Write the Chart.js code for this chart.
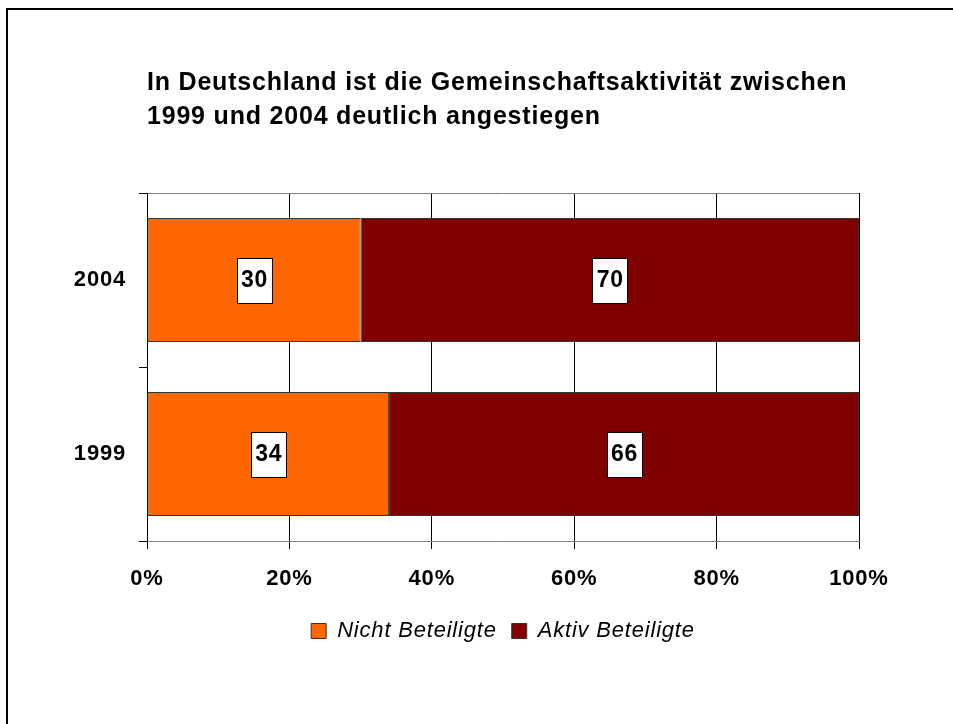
<!DOCTYPE html>
<html>
<head>
<meta charset="utf-8">
<title>Gemeinschaftsaktivität</title>
<script src="https://cdn.jsdelivr.net/npm/chart.js@4.4.1/dist/chart.umd.min.js"></script>
<style>
  body { margin: 0; background: #fff; overflow: hidden; }
  #frame { position: absolute; left: 6px; top: 8px; width: 1000px; height: 1000px; border-left: 2px solid #000; border-top: 2px solid #000; }
  #wrap { position: absolute; left: 0; top: 0; width: 953px; height: 724px; }
</style>
</head>
<body>
<div id="frame"></div>
<div id="wrap"><canvas id="chart"></canvas></div>
<script>
// Chart data
const years = ["2004", "1999"];
const nichtBeteiligte = [30, 34];
const aktivBeteiligte = [70, 66];
const percentTicks = [0, 20, 40, 60, 80, 100];
const titleLines = [
  "In Deutschland ist die Gemeinschaftsaktivität zwischen",
  "1999 und 2004 deutlich angestiegen"
];

const FONT = "'Liberation Sans', Arial, sans-serif";
Chart.defaults.font.family = FONT;
Chart.defaults.color = "#000";

// Excel text is drawn a bit wider than the canvas does it
const letterSpacing = {
  id: "letterSpacing",
  beforeUpdate(chart) { chart.ctx.letterSpacing = "0.8px"; },
  beforeDraw(chart) { chart.ctx.letterSpacing = "0.8px"; }
};

// white boxes with the values in the middle of each bar
const valueBoxes = {
  id: "valueBoxes",
  afterDatasetsDraw(chart) {
    const ctx = chart.ctx;
    ctx.save();
    ctx.font = "bold 23px " + FONT;
    ctx.textAlign = "center";
    ctx.textBaseline = "middle";
    chart.data.datasets.forEach((ds, i) => {
      chart.getDatasetMeta(i).data.forEach((bar, j) => {
        const { x, y } = bar.getCenterPoint();
        const text = String(ds.data[j]);
        const w = Math.round(ctx.measureText(text).width + 8);
        const h = 45;
        const left = Math.round(x - w / 2);
        const top = Math.round(y - h / 2);
        ctx.fillStyle = "#fff";
        ctx.fillRect(left, top, w, h);
        ctx.strokeStyle = "#000";
        ctx.lineWidth = 1;
        ctx.strokeRect(left + 0.5, top + 0.5, w, h);
        ctx.fillStyle = "#000";
        ctx.fillText(text, x + 0.5, y + 1);
      });
    });
    ctx.restore();
  }
};

new Chart(document.getElementById("chart"), {
  type: "bar",
  data: {
    labels: years,
    datasets: [
      {
        label: "Nicht Beteiligte",
        data: nichtBeteiligte,
        backgroundColor: "#ff6600",
        borderColor: "#333",
        borderWidth: 1,
        borderSkipped: false
      },
      {
        label: "Aktiv Beteiligte",
        data: aktivBeteiligte,
        backgroundColor: "#800000",
        borderColor: "#333",
        borderWidth: 1,
        borderSkipped: false
      }
    ]
  },
  options: {
    indexAxis: "y",
    responsive: true,
    maintainAspectRatio: false,
    animation: false,
    datasets: { bar: { categoryPercentage: 1, barPercentage: 0.713 } },
    layout: { padding: { top: 66, right: 94, bottom: 72, left: 0 } },
    scales: {
      x: {
        stacked: true,
        min: 0,
        max: 100,
        afterBuildTicks(scale) {
          scale.ticks = percentTicks.map((v) => ({ value: v }));
        },
        ticks: {
          callback: (v) => v + "%",
          padding: 17,
          maxRotation: 0,
          font: { size: 22, weight: "bold" }
        },
        grid: { color: "#000", tickColor: "#000", tickLength: 8 },
        border: { color: "#808080" },
        afterFit(scale) { scale.height = 64; }
      },
      y: {
        stacked: true,
        ticks: { padding: 13, font: { size: 22, weight: "bold" } },
        grid: {
          offset: true,
          color: (c) => (c.index === 0 ? "#808080" : "rgba(0,0,0,0)"),
          tickColor: "#000",
          tickLength: 8
        },
        border: { color: "#000" },
        afterFit(scale) { scale.width = 147; }
      }
    },
    plugins: {
      title: {
        display: true,
        text: titleLines,
        align: "start",
        fullSize: false,
        color: "#000",
        font: { size: 25, weight: "bold", lineHeight: 1.36 },
        padding: { top: 0, bottom: 59 }
      },
      legend: {
        position: "bottom",
        fullSize: false,
        labels: {
          boxWidth: 15,
          boxHeight: 15,
          padding: 15,
          color: "#000",
          font: { size: 22, style: "italic" }
        }
      },
      tooltip: { enabled: false }
    }
  },
  plugins: [letterSpacing, valueBoxes]
});
</script>
</body>
</html>
